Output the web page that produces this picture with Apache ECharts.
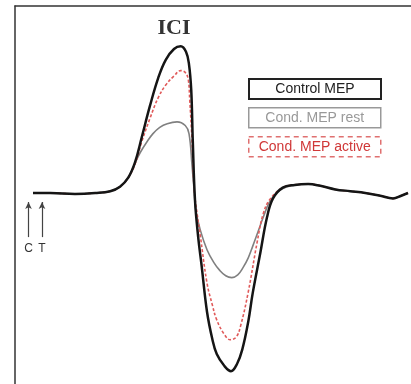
<!DOCTYPE html>
<html><head><meta charset="utf-8">
<script src="https://cdn.jsdelivr.net/npm/echarts@6/dist/echarts.min.js"></script>
<style>html,body{margin:0;padding:0;background:#fff}#c{width:411px;height:384px}</style>
</head><body><div id="c"></div>
<script>
// Series names (legend)
const seriesNames = ['Control MEP', 'Cond. MEP rest', 'Cond. MEP active'];
const titleText = 'ICI';
// Stimulus markers (ms) and labels
const stimTimes = [-0.6, 1.2];
const stimLabels = ['C', 'T'];

// Control MEP (time ms, amplitude mV)
const tControl = [0, 2.3, 5.6, 8.3, 10.3, 11.6, 12.7, 13.6, 14.5, 15.6, 16.7, 17.7, 18.8, 19.7, 20.4, 20.8, 21.1, 21.3, 21.6, 22.0, 22.5, 23.2, 23.9, 24.5, 25.5, 26.4, 27.2, 27.9, 28.7, 29.3, 30.3, 31.2, 32.0, 33.3, 34.9, 36.7, 38.3, 40.3, 42.3, 44.3, 46.3, 48.0, 49.1, 50.0];
const vControl = [0, 0, -0.01, 0, 0.02, 0.07, 0.17, 0.34, 0.62, 0.97, 1.28, 1.48, 1.6, 1.63, 1.57, 1.43, 1.14, 0.59, -0.08, -0.47, -0.82, -1.32, -1.62, -1.79, -1.92, -1.98, -1.9, -1.74, -1.43, -1.11, -0.67, -0.27, -0.06, 0.06, 0.09, 0.1, 0.08, 0.04, 0.02, 0, -0.03, -0.06, -0.03, 0];

// Conditioned MEP at rest
const tRest = [0, 2.3, 5.6, 8.3, 10.3, 11.6, 12.7, 13.6, 14.3, 15.2, 16.0, 16.9, 17.9, 19.2, 20.3, 20.8, 21.2, 21.5, 21.7, 22.3, 23.2, 24.1, 24.9, 25.7, 26.5, 27.3, 28.0, 28.7, 29.3, 30.0, 30.7, 31.6, 32.9, 34.9, 36.7, 38.3, 40.3, 42.3, 44.3, 46.3, 48.0, 49.1, 50.0];
const vRest = [0, 0, -0.01, 0, 0.02, 0.07, 0.17, 0.33, 0.45, 0.57, 0.66, 0.73, 0.77, 0.79, 0.75, 0.66, 0.31, 0.01, -0.19, -0.41, -0.63, -0.77, -0.86, -0.92, -0.94, -0.91, -0.83, -0.72, -0.59, -0.43, -0.27, -0.09, 0.03, 0.09, 0.1, 0.08, 0.04, 0.02, 0, -0.03, -0.06, -0.03, 0];

// Conditioned MEP active
const tActive = [0, 2.3, 5.6, 8.3, 10.3, 11.6, 12.7, 13.6, 14.5, 15.6, 16.7, 17.7, 18.8, 19.7, 20.3, 20.7, 20.9, 21.2, 21.5, 21.9, 22.3, 23.2, 23.9, 24.5, 25.5, 26.3, 27.1, 27.7, 28.7, 29.9, 30.7, 31.6, 33.3, 34.9, 36.7, 38.3, 40.3, 42.3, 44.3, 46.3, 48.0, 49.1, 50.0];
const vActive = [0, 0, -0.01, 0, 0.02, 0.07, 0.17, 0.32, 0.57, 0.83, 1.06, 1.2, 1.3, 1.36, 1.34, 1.26, 1.03, 0.59, 0.03, -0.24, -0.47, -1.0, -1.24, -1.41, -1.57, -1.63, -1.6, -1.47, -1.1, -0.54, -0.23, -0.07, 0.06, 0.09, 0.1, 0.08, 0.04, 0.02, 0, -0.03, -0.06, -0.03, 0];

const zip = (t, v) => t.map((x, i) => [x, v[i]]);
const chart = echarts.init(document.getElementById('c'), null, {renderer: 'canvas'});

const legendStyles = [
  {stroke: '#222', lineWidth: 2, dash: null, color: '#222'},
  {stroke: '#999', lineWidth: 1.5, dash: null, color: '#999'},
  {stroke: '#e07070', lineWidth: 1.5, dash: [5, 4], color: '#d03838'}
];
const graphics = [];
seriesNames.forEach((n, i) => {
  const s = legendStyles[i];
  graphics.push({
    type: 'group', left: 248, top: 78 + i * 29,
    children: [
      {type: 'rect', shape: {x: 0, y: 0, width: 132, height: 20},
       style: {fill: '#fff', stroke: s.stroke, lineWidth: s.lineWidth, lineDash: s.dash}},
      {type: 'text', x: 66, y: 10,
       style: {text: n, fill: s.color, font: '14px "Liberation Sans", Arial, sans-serif', textAlign: 'center', textVerticalAlign: 'middle'}}
    ]
  });
});
graphics.push({
  type: 'text', x: 174, y: 28,
  style: {text: titleText, fill: '#333', font: 'bold 22px "Liberation Serif", "Times New Roman", serif', textAlign: 'center', textVerticalAlign: 'middle'}
});

const option = {
  animation: false,
  backgroundColor: '#fff',
  grid: {left: 15, top: 6, right: 0, bottom: 0},
  xAxis: {
    type: 'value', min: -2.4, max: 50.4, position: 'top',
    axisLine: {show: true, onZero: false, lineStyle: {color: '#333', width: 1.5}},
    axisTick: {show: false}, axisLabel: {show: false}, splitLine: {show: false}
  },
  yAxis: {
    type: 'value', min: -2.1222, max: 2.0778,
    axisLine: {show: true, onZero: false, lineStyle: {color: '#333', width: 1.5}},
    axisTick: {show: false}, axisLabel: {show: false}, splitLine: {show: false}
  },
  series: [
    {name: seriesNames[1], type: 'line', data: zip(tRest, vRest), smooth: 0.4, showSymbol: false,
     lineStyle: {color: '#808080', width: 1.6}, z: 2},
    {name: seriesNames[2], type: 'line', data: zip(tActive, vActive), smooth: 0.4, showSymbol: false,
     lineStyle: {color: '#e05a5a', width: 1.6, type: [3, 2]}, z: 3},
    {name: seriesNames[0], type: 'line', data: zip(tControl, vControl), smooth: 0.4, showSymbol: false,
     lineStyle: {color: '#151515', width: 2.5}, z: 4,
     markLine: {
       silent: true, symbol: ['none', 'arrow'], symbolSize: [5, 7],
       lineStyle: {color: '#444', width: 1.2, type: 'solid'},
       label: {show: true, position: 'start', formatter: p => p.name, color: '#333', fontSize: 12, fontFamily: 'Liberation Sans, Arial', distance: 6},
       data: stimTimes.map((t, i) => [{name: stimLabels[i], coord: [t, -0.49]}, {coord: [t, -0.1]}])
     }}
  ],
  graphic: graphics
};
chart.setOption(option);
</script></body></html>
